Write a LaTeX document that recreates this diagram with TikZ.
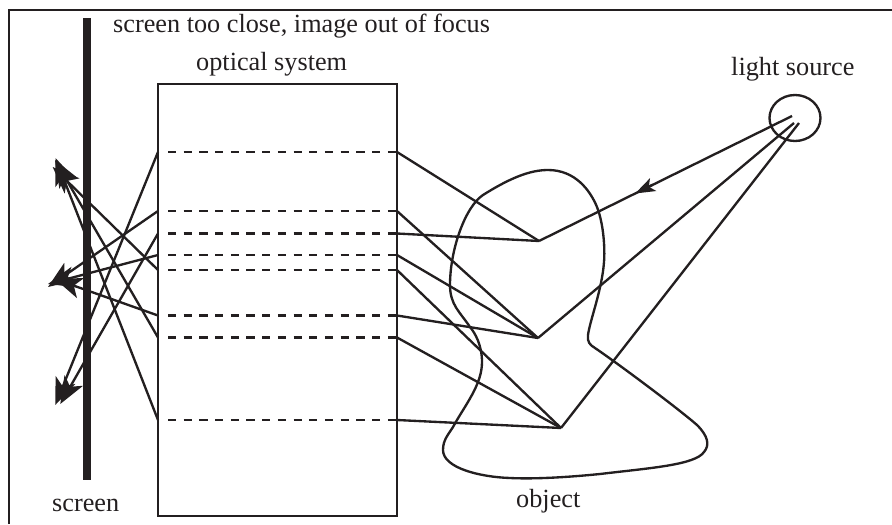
\documentclass[tikz,border=0pt]{standalone}
\usepackage{fontspec}
\setmainfont{Liberation Serif}
\usetikzlibrary{arrows.meta, calc}
\definecolor{myk}{RGB}{35, 31, 32}
\tikzset{
    frameline/.style={draw=myk, line width=2.2pt},
    boxline/.style={draw=myk, line width=2pt},
    rayline/.style={draw=myk, line width=2pt},
    rayarrow/.style={rayline, -{Stealth[length=23pt, width=18pt, inset=6pt]}},
    srcarrow/.style={rayline, -{Stealth[length=17pt, width=12pt, inset=4pt]}},
    dashline/.style={draw=myk, line width=2pt, dash pattern=on 7pt off 6.4pt},
    labeltext/.style={text=myk, inner sep=0pt, anchor=base west, font=\fontsize{22.4}{26}\selectfont}
}
\begin{document}
\begin{tikzpicture}[x=0.03cm, y=-0.03cm]
    \useasboundingbox (0,0) rectangle (892,524);
    \draw[frameline] (9,524) -- (9,10) -- (892,10);
    \fill[myk] (83,18) rectangle (91,480);
    \node[labeltext] (toolabel) at (113,32) {screen too close, image out of focus};
    \node[labeltext] (optlabel) at (196,70) {optical system};
    \node[labeltext] (lightlabel) at (731,75) {light source};
    \node[labeltext] (screenlabel) at (52,511) {screen};
    \node[labeltext] (objlabel) at (516,507) {object};
    \node[boxline, minimum width=0.03cm*239, minimum height=0.03cm*432, inner sep=0pt] (optbox) at (277.5,300) {};
    \draw[boxline] (795,118) ellipse (25.5 and 23);
    % object outline
    \draw[rayline, line join=round] (483,195) .. controls (510,178) and (530,170) .. (548,170)
        .. controls (575,170) and (590,190) .. (597,207)
        .. controls (604,225) and (605,250) .. (604,262)
        .. controls (602,290) and (590,320) .. (588,335)
        .. controls (587,342) and (590,345) .. (595,348)
        .. controls (620,365) and (680,410) .. (697,425)
        .. controls (708,436) and (710,445) .. (704,452)
        .. controls (695,465) and (650,468) .. (600,474)
        .. controls (560,478) and (530,479) .. (510,478)
        .. controls (480,477) and (443,468) .. (443,450)
        .. controls (443,440) and (448,435) .. (453,427)
        .. controls (465,405) and (482,385) .. (482,362)
        .. controls (482,345) and (475,333) .. (470,327)
        .. controls (460,312) and (450,305) .. (450,285)
        .. controls (450,250) and (465,207) .. (483,195) -- cycle;
    % points on the object and in the source
    \coordinate (pa) at (539,241);
    \coordinate (pb) at (538,338);
    \coordinate (pc) at (561,428);
    \coordinate (srca) at (792,116);
    \coordinate (srcb) at (794,123);
    \coordinate (srcc) at (799,123);
    \draw[srcarrow] (srca) -- ($(pa)!0.38!(srca)$);
    \draw[rayline] ($(pa)!0.45!(srca)$) -- (pa);
    \draw[rayline] (srcb) -- (pb);
    \draw[rayline] (srcc) -- (pc);
    % dashed lines through the system, with the rays on both sides
    \foreach \yy/\obj/\xt/\yt in {152/pa/55.3/405, 211/pb/48/287, 233.5/pa/60.3/404, 255/pb/48/284, 270/pc/52.7/167, 315.5/pb/55/279, 337.5/pc/55/160, 420/pc/55.5/158}
    {
        \coordinate (lft) at (158,\yy);
        \coordinate (rgt) at (397,\yy);
        \draw[dashline] (168,\yy) -- (rgt);
        \draw[rayline] (\obj) -- (rgt);
        \draw[rayarrow] (lft) -- (\xt,\yt);
    }
\end{tikzpicture}
\end{document}
